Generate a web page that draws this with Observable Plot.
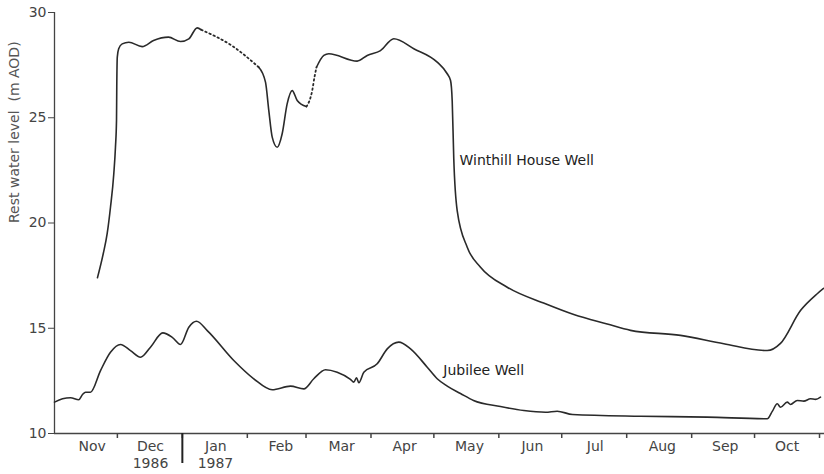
<!DOCTYPE html>
<html><head><meta charset="utf-8">
<script src="https://cdn.jsdelivr.net/npm/d3@7"></script>
<script src="https://cdn.jsdelivr.net/npm/@observablehq/plot@0.6"></script>
<style>body{margin:0;background:#fff}#chart svg{display:block}</style>
</head><body><div id="chart"></div><script>
// Winthill House Well: solid and dotted (estimated) sections
const winthillA = [
  ["1986-11-21 12",17.40],["1986-11-24 06",18.54],["1986-11-26 03",19.49],["1986-11-27 17",20.75],
  ["1986-11-29 07",22.34],["1986-11-30 02",23.60],["1986-11-30 14",24.87],["1986-11-30 17",26.45],
  ["1986-11-30 23",27.88],["1986-12-01 15",28.28],["1986-12-03 07",28.51],["1986-12-06 11",28.59],
  ["1986-12-12 20",28.38],["1986-12-18 06",28.67],["1986-12-25 09",28.83],["1986-12-31 03",28.62],
  ["1987-01-04 02",28.75],["1987-01-08 02",29.27],["1987-01-10 00",29.18]
];
const winthillGap1 = [["1987-01-10 00",29.18],["1987-01-24 23",28.4],["1987-02-06 11",27.40]];
const winthillB = [
  ["1987-02-06 11",27.40],["1987-02-09 16",26.69],["1987-02-11 06",25.34],["1987-02-12 21",24.08],
  ["1987-02-15 06",23.60],["1987-02-17 15",24.24],["1987-02-20 00",25.66],["1987-02-22 10",26.29],
  ["1987-02-24 19",25.82],["1987-03-01 05",25.53]
];
const winthillGap2 = [["1987-03-01 05",25.53],["1987-03-03 23",26.29],["1987-03-05 01",26.93],["1987-03-06 00",27.40]];
const winthillC = [
  ["1987-03-06 00",27.40],["1987-03-09 12",27.96],["1987-03-11 21",28.04],["1987-03-25 10",27.69],
  ["1987-03-30 05",27.96],["1987-04-05 13",28.19],["1987-04-11 21",28.75],["1987-04-21 10",28.28],
  ["1987-05-02 14",27.64],["1987-05-07 09",27.09],["1987-05-08 23",26.77],["1987-05-09 18",25.8],
  ["1987-05-10 12",23.05],["1987-05-12 03",20.59],["1987-05-16 22",18.85],["1987-05-23 06",17.90],
  ["1987-06-05 00",16.95],["1987-06-23 06",16.16],["1987-07-06 18",15.65],["1987-07-22 17",15.2],
  ["1987-08-02 20",14.9],["1987-08-26 16",14.66],["1987-09-16 08",14.26],["1987-10-07 01",13.94],
  ["1987-10-13 09",14.28],["1987-10-22 22",15.84],["1987-10-30 22",16.64],["1987-11-02 22",16.89]
];
// Jubilee Well
const jubilee = [
  ["1986-11-01 00",11.49],["1986-11-04 20",11.65],["1986-11-08 15",11.70],["1986-11-12 14",11.60],
  ["1986-11-14 09",11.85],["1986-11-15 19",11.96],["1986-11-18 04",11.96],["1986-11-22 23",12.99],
  ["1986-11-27 17",13.86],["1986-12-02 12",14.23],["1986-12-07 06",13.94],["1986-12-12 01",13.62],
  ["1986-12-16 19",14.10],["1986-12-22 16",14.78],["1986-12-27 04",14.57],["1986-12-31 03",14.23],
  ["1987-01-04 02",15.05],["1987-01-07 18",15.33],["1987-01-12 21",14.89],["1987-01-25 13",13.47],
  ["1987-02-04 02",12.60],["1987-02-12 21",12.08],["1987-02-21 14",12.25],["1987-02-27 23",12.12],
  ["1987-03-04 17",12.60],["1987-03-10 07",13.03],["1987-03-15 21",12.91],["1987-03-22 05",12.57],
  ["1987-03-23 19",12.44],["1987-03-25 02",12.65],["1987-03-26 05",12.41],["1987-03-28 14",12.91],
  ["1987-04-03 23",13.31],["1987-04-08 18",14.02],["1987-04-14 06",14.34],["1987-04-19 21",14.02],
  ["1987-04-27 20",13.15],["1987-05-02 14",12.6],["1987-05-07 09",12.25],["1987-05-13 17",11.9],
  ["1987-05-19 22",11.57],
  ["1987-06-01 19",11.28],["1987-06-12 22",11.09],["1987-06-23 06",11.01],["1987-06-28 20",11.06],
  ["1987-07-06 04",10.90],["1987-08-07 14",10.82],["1987-09-08 10",10.78],["1987-10-07 01",10.70],
  ["1987-10-09 11",11.05],["1987-10-11 20",11.41],["1987-10-13 09",11.25],["1987-10-16 14",11.49],
  ["1987-10-18 04",11.38],["1987-10-21 09",11.57],["1987-10-24 12",11.54],["1987-10-27 17",11.65],
  ["1987-10-30 02",11.62],["1987-11-01 11",11.73]
];
const monthStarts = ["1986-12-01 00","1987-01-01 00","1987-02-01 00","1987-03-01 00","1987-04-01 00","1987-05-01 00",
  "1987-06-01 00","1987-07-01 00","1987-08-01 00","1987-09-01 00","1987-10-01 00","1987-11-01 00"];
const monthLabelDates = ["1986-11-19 00","1986-12-16 19","1987-01-17 00","1987-02-17 00","1987-03-18 00","1987-04-17 00",
  "1987-05-18 00","1987-06-17 00","1987-07-17 00","1987-08-18 00","1987-09-17 00","1987-10-16 12"];
const monthLabels = ["Nov","Dec","Jan","Feb","Mar","Apr","May","Jun","Jul","Aug","Sep","Oct"];
const yearLabels = [["1986-12-16 19","1986"],["1987-01-16 19","1987"]];
const yearBreak = "1987-01-01 00";
const yTicks = [10,15,20,25,30];
const seriesLabels = [["1987-05-13 05",22.97,"Winthill House Well"],["1987-05-05 12",12.99,"Jubilee Well"]];
const yLabel = "Rest water level  (m AOD)";

const p = d3.utcParse("%Y-%m-%d %H");
const rows = a => a.map(([d, v]) => ({date: p(d), level: v}));
const ink = "#2a2a2a", axisInk = "#444";
const xStart = p("1986-11-01 00"), xEnd = p("1987-11-03 09");

const chart = Plot.plot({
  width: 824, height: 474,
  marginLeft: 54, marginRight: 0, marginTop: 12, marginBottom: 41,
  style: {fontFamily: "DejaVu Sans", fontSize: "14px", color: axisInk, background: "#fff"},
  x: {type: "utc", domain: [xStart, xEnd]},
  y: {domain: [10, 30]},
  marks: [
    Plot.ruleX([xStart], {stroke: axisInk, strokeWidth: 1.3}),
    Plot.ruleY([10], {stroke: axisInk, strokeWidth: 1.3}),
    Plot.axisY({ticks: yTicks, tickSize: 6, tickPadding: 2, label: null, stroke: axisInk}),
    Plot.axisX({ticks: monthStarts.map(p), tickSize: 5, tickFormat: () => "", label: null, stroke: axisInk, strokeWidth: 1.5}),
    Plot.axisX({ticks: [p(yearBreak)], tickSize: 30, tickFormat: () => "", label: null, stroke: "#222", strokeWidth: 2}),
    Plot.axisX({ticks: monthLabelDates.map(p), tickSize: 0, tickPadding: 8, tickFormat: (d, i) => monthLabels[i], label: null}),
    Plot.text(yearLabels.map(([d, t]) => ({date: p(d), t})), {x: "date", text: "t", frameAnchor: "bottom", dy: 34, fill: axisInk}),
    Plot.text([yLabel], {frameAnchor: "left", rotate: -90, dx: -40, fill: "#555"}),
    Plot.line(rows(winthillA), {x: "date", y: "level", curve: "monotone-x", stroke: ink, strokeWidth: 1.6}),
    Plot.line(rows(winthillGap1), {x: "date", y: "level", curve: "monotone-x", stroke: ink, strokeWidth: 1.8, strokeDasharray: "1.5,3"}),
    Plot.line(rows(winthillB), {x: "date", y: "level", curve: "monotone-x", stroke: ink, strokeWidth: 1.6}),
    Plot.line(rows(winthillGap2), {x: "date", y: "level", curve: "monotone-x", stroke: ink, strokeWidth: 1.8, strokeDasharray: "1.5,3"}),
    Plot.line(rows(winthillC), {x: "date", y: "level", curve: "monotone-x", stroke: ink, strokeWidth: 1.6}),
    Plot.line(rows(jubilee), {x: "date", y: "level", curve: "monotone-x", stroke: ink, strokeWidth: 1.6}),
    Plot.text(seriesLabels.map(([d, v, t]) => ({date: p(d), level: v, t})), {x: "date", y: "level", text: "t", textAnchor: "start", fill: "#222", fontSize: 14})
  ]
});
document.getElementById("chart").appendChild(chart);
</script></body></html>
